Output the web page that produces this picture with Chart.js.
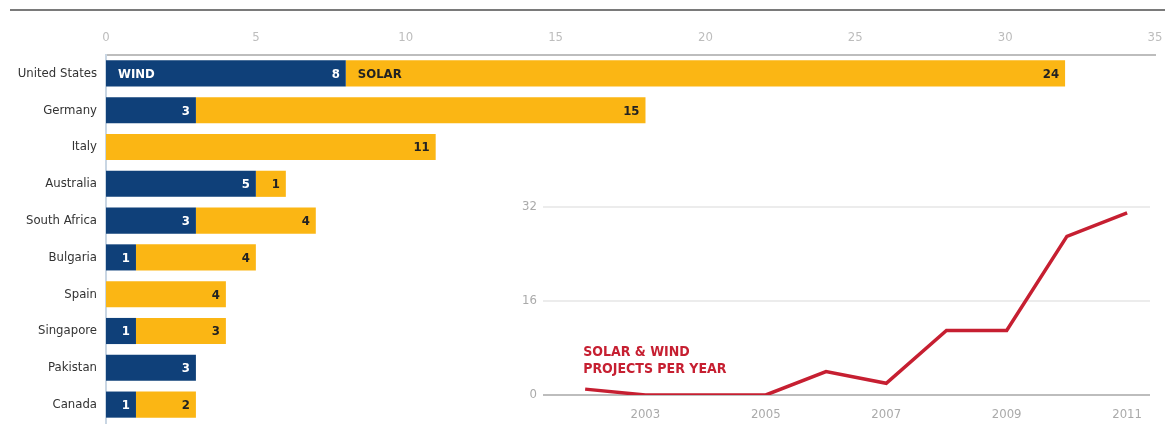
<!DOCTYPE html>
<html>
<head>
<meta charset="utf-8">
<script src="https://cdn.jsdelivr.net/npm/chart.js@4"></script>
<style>
    body { margin: 0; background: #fff; }
    #wrap { position: relative; width: 1165px; height: 424px; }
    #barChart { position: absolute; left: 0; top: 0; }
    #lineChart { position: absolute; left: 500px; top: 195px; }
</style>
</head>
<body>
<div id="wrap">
    <canvas id="barChart" width="1165" height="424"></canvas>
    <canvas id="lineChart" width="665" height="229"></canvas>
</div>
<script>
// --- Data ---
const countries = ['United States', 'Germany', 'Italy', 'Australia', 'South Africa', 'Bulgaria', 'Spain', 'Singapore', 'Pakistan', 'Canada'];
const windProjects = [8, 3, 0, 5, 3, 1, 0, 1, 3, 1];
const solarProjects = [24, 15, 11, 1, 4, 4, 4, 3, 0, 2];
const barTicks = [0, 5, 10, 15, 20, 25, 30, 35];

const years = [2002, 2003, 2004, 2005, 2006, 2007, 2008, 2009, 2010, 2011];
const projectsPerYear = [1, 0, 0, 0, 4, 2, 11, 11, 27, 31];
const yearTicks = [2003, 2005, 2007, 2009, 2011];
const countTicks = [0, 16, 32];

const FONT = "'Liberation Sans Narrow', 'DejaVu Sans Condensed', 'Liberation Sans', sans-serif";
const NAVY = '#0f4079';
const GOLD = '#fbb614';
const RED = '#c61f31';

// kill the extra room chart.js keeps for overflowing tick labels
const noLabelPad = (s) => {
    s.paddingTop = 0;
    s.paddingBottom = 0;
    s.paddingLeft = 0;
    s.paddingRight = 0;
};

document.addEventListener('DOMContentLoaded', () => {

    // 1. Labels inside the bars + top rule
    const barLabels = {
        id: 'barLabels',
        beforeDraw(chart) {
            const ctx = chart.ctx;
            ctx.save();
            ctx.strokeStyle = '#7a7a7a';
            ctx.lineWidth = 2;
            ctx.beginPath();
            ctx.moveTo(10, 10);
            ctx.lineTo(1165, 10);
            ctx.stroke();
            ctx.restore();
        },
        afterDatasetsDraw(chart) {
            const ctx = chart.ctx;
            ctx.save();
            ctx.font = `bold 13px ${FONT}`;
            ctx.textBaseline = 'middle';
            chart.data.datasets.forEach((ds, di) => {
                const meta = chart.getDatasetMeta(di);
                meta.data.forEach((bar, i) => {
                    const v = ds.data[i];
                    if (!v) return;
                    ctx.fillStyle = di === 0 ? '#ffffff' : '#222222';
                    ctx.textAlign = 'right';
                    ctx.fillText(String(v), bar.x - 6, bar.y + 1);
                    if (i === 0) {
                        ctx.textAlign = 'left';
                        ctx.fillText(di === 0 ? 'WIND' : 'SOLAR', bar.base + 12, bar.y + 1);
                    }
                });
            });
            ctx.restore();
        }
    };

    new Chart(document.getElementById('barChart'), {
        type: 'bar',
        data: {
            labels: countries,
            datasets: [
                { label: 'Wind', data: windProjects, backgroundColor: NAVY },
                { label: 'Solar', data: solarProjects, backgroundColor: GOLD }
            ]
        },
        options: {
            indexAxis: 'y',
            responsive: false,
            animation: false,
            layout: { padding: { top: 20, right: 10, left: 0, bottom: 1 } },
            datasets: { bar: { categoryPercentage: 1, barPercentage: 0.71 } },
            plugins: { legend: { display: false }, tooltip: { enabled: false } },
            scales: {
                x: {
                    position: 'top',
                    stacked: true,
                    min: 0,
                    max: 35,
                    afterFit: (s) => { s.height = 35; noLabelPad(s); },
                    afterBuildTicks: (s) => { s.ticks = barTicks.map(v => ({ value: v })); },
                    grid: { display: false, drawTicks: false },
                    border: { display: true, color: '#bdbdbd', width: 2 },
                    ticks: { color: '#bdbdbd', padding: 10, font: { family: FONT, size: 13 } }
                },
                y: {
                    stacked: true,
                    afterFit: (s) => { s.width = 106; noLabelPad(s); },
                    grid: { display: false, drawTicks: false },
                    border: { display: true, color: '#c9d6e3', width: 2 },
                    ticks: { color: '#333333', padding: 9, font: { family: FONT, size: 13 } }
                }
            }
        },
        plugins: [barLabels]
    });

    // 2. Inset line chart: projects per year
    const lineNote = {
        id: 'lineNote',
        afterDraw(chart) {
            const ctx = chart.ctx;
            const x = chart.scales.x.getPixelForValue(years[0]) - 2;
            ctx.save();
            ctx.font = `bold 14px ${FONT}`;
            ctx.fillStyle = RED;
            ctx.textAlign = 'left';
            ctx.textBaseline = 'middle';
            ctx.fillText('SOLAR & WIND', x, 157);
            ctx.fillText('PROJECTS PER YEAR', x, 174);
            ctx.restore();
        }
    };

    new Chart(document.getElementById('lineChart'), {
        type: 'line',
        data: {
            datasets: [{
                data: years.map((y, i) => ({ x: y, y: projectsPerYear[i] })),
                borderColor: RED,
                borderWidth: 3.5,
                pointRadius: 0,
                tension: 0,
                fill: false
            }]
        },
        options: {
            responsive: false,
            animation: false,
            layout: { padding: { top: 12, right: 15, left: 0, bottom: 0 } },
            plugins: { legend: { display: false }, tooltip: { enabled: false } },
            scales: {
                x: {
                    type: 'linear',
                    min: 2001.3,
                    max: 2011.38,
                    afterFit: (s) => { s.height = 29; noLabelPad(s); },
                    afterBuildTicks: (s) => { s.ticks = yearTicks.map(v => ({ value: v })); },
                    grid: { display: false, drawTicks: false },
                    border: { display: false },
                    ticks: { color: '#aaaaaa', padding: 12, font: { family: FONT, size: 13 }, callback: (v) => String(v) }
                },
                y: {
                    min: 0,
                    max: 32,
                    afterFit: (s) => { s.width = 43; noLabelPad(s); },
                    afterBuildTicks: (s) => { s.ticks = countTicks.map(v => ({ value: v })); },
                    grid: {
                        drawTicks: false,
                        lineWidth: 2,
                        color: (c) => c.tick && c.tick.value === 0 ? '#bdbdbd' : '#ececec'
                    },
                    border: { display: false },
                    ticks: { color: '#aaaaaa', padding: 6, font: { family: FONT, size: 13 } }
                }
            }
        },
        plugins: [lineNote]
    });
});
</script>
</body>
</html>
